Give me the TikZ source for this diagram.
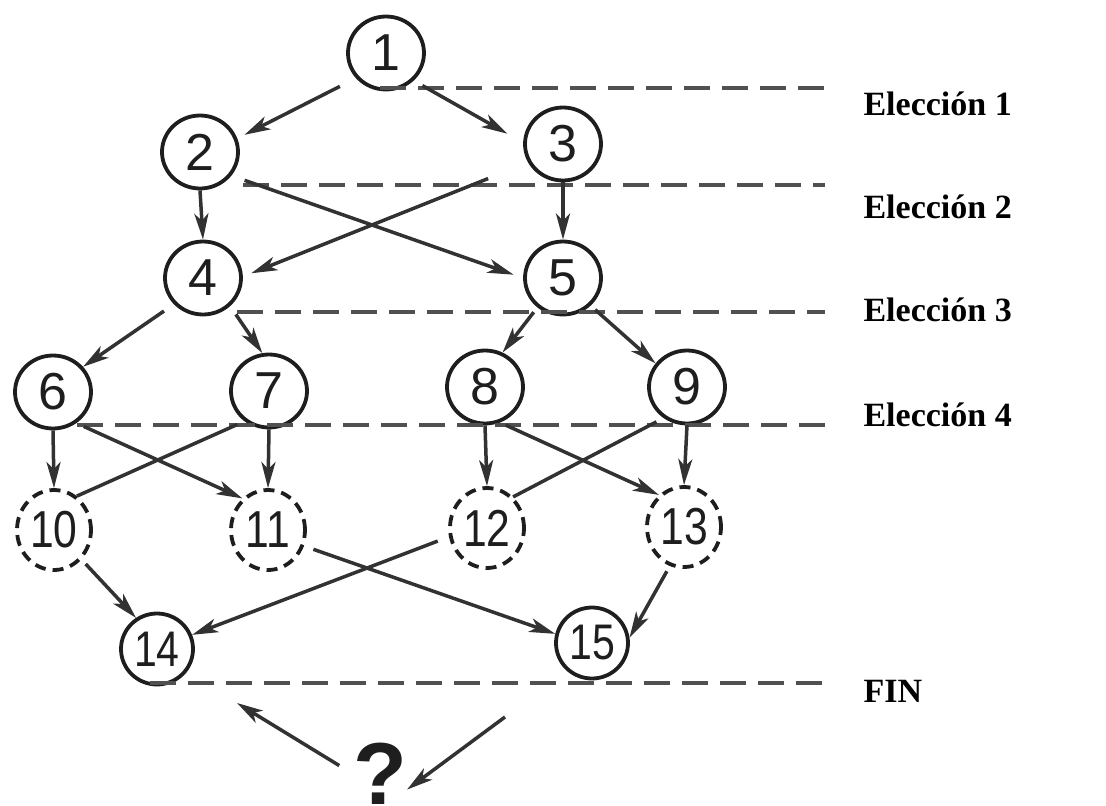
\documentclass[tikz,border=0pt]{standalone}
\usepackage{fontspec}
\setmainfont{Liberation Serif}
\newfontfamily\digitfont{Liberation Sans}
\newfontfamily\narrowdigitfont[FakeStretch=0.82]{Liberation Sans}
\usetikzlibrary{arrows.meta, shapes.geometric}
\definecolor{chink}{RGB}{30,30,30}
\definecolor{chline}{RGB}{50,50,50}
\definecolor{chdash}{RGB}{80,80,80}

\begin{document}
\begin{tikzpicture}[x=1pt, y=-1pt,
  choice/.style={ellipse, draw=chink, line width=3.8pt, minimum width=76pt,
                 minimum height=73pt, inner sep=0pt, text=chink,
                 font=\digitfont\fontsize{52}{52}\selectfont},
  pending/.style={choice, dash pattern=on 11pt off 7pt, minimum width=74pt,
                  minimum height=80pt, font=\narrowdigitfont\fontsize{52}{52}\selectfont},
  goal/.style={choice, minimum width=72pt, minimum height=71pt,
               font=\narrowdigitfont\fontsize{50}{50}\selectfont},
  pick/.style={-{Stealth[length=26pt,width=14pt,inset=7pt]}, line width=3.5pt, chline},
  cutline/.style={line width=3.8pt, chdash, dash pattern=on 26pt off 12pt},
  stagelabel/.style={anchor=base west, font=\bfseries\fontsize{34}{34}\selectfont}]
  \useasboundingbox (0,0) rectangle (1106,806);

  % Choice nodes
  \node[choice] (n1) at (386,53) {1};
  \node[choice] (n2) at (200,152) {2};
  \node[choice] (n3) at (563,144) {3};
  \node[choice] (n4) at (203,278) {4};
  \node[choice] (n5) at (563,278) {5};
  \node[choice] (n6) at (53,392) {6};
  \node[choice] (n7) at (269,391) {7};
  \node[choice] (n8) at (485,387) {8};
  \node[choice] (n9) at (687,387) {9};
  % Open nodes (dashed)
  \node[pending] (n10) at (54,530) {10};
  \node[pending] (n11) at (268,530) {11};
  \node[pending] (n12) at (487,528) {12};
  \node[pending] (n13) at (684,527) {13};
  % End nodes
  \node[goal] (n14) at (157,649) {14};
  \node[goal] (n15) at (592,643) {15};
  \node[anchor=north, inner sep=0pt, text=chink,
        font=\fontspec{Liberation Sans}\bfseries\fontsize{88}{88}\selectfont] (q) at (380,743) {?};

  % Stage lines
  \coordinate (c1a) at (380,88);  \coordinate (c1b) at (825,88);
  \coordinate (c2a) at (243,185); \coordinate (c2b) at (825,185);
  \coordinate (c3a) at (237,312); \coordinate (c3b) at (825,312);
  \coordinate (c4a) at (77,425);  \coordinate (c4b) at (825,425);
  \coordinate (c5a) at (150,683); \coordinate (c5b) at (825,683);
  \draw[cutline] (c1a) -- (c1b);
  \draw[cutline] (c2a) -- (c2b);
  \draw[cutline] (c3a) -- (c3b);
  \draw[cutline] (c4a) -- (c4b);
  \draw[cutline] (c5a) -- (c5b);

  % Stage labels
  \node[stagelabel] (s1) at (860,115) {Elección 1};
  \node[stagelabel] (s2) at (860,218) {Elección 2};
  \node[stagelabel] (s3) at (860,321) {Elección 3};
  \node[stagelabel] (s4) at (860,426) {Elección 4};
  \node[stagelabel] (s5) at (860,702) {FIN};

  % Moves
  \draw[pick, shorten <=18pt, shorten >=8pt] (n1.220) -- (n2.20);
  \draw[pick, shorten <=10pt, shorten >=18pt] (n1.-45) -- (n3.178);
  \draw[pick] (n2.south) -- (n4.north);
  \draw[pick] (n3.south) -- (n5.north);
  \draw[pick, shorten <=14pt, shorten >=10pt] (n2.-37) -- (n5.180);
  \draw[pick, shorten <=43pt, shorten >=9pt] (n3.208) -- (n4.2);
  \draw[pick, shorten <=12pt] (n4.222) -- (n6.40);
  \draw[pick, shorten <=10pt] (n4.-46) -- (n7.100);
  \draw[pick, shorten <=6pt] (n5.229) -- (n8.63);
  \draw[pick, shorten <=6pt] (n5.-45) -- (n9.143);
  \draw[pick] (n6.south) -- (n10.north);
  \draw[pick, shorten <=8pt] (n6.-53) -- (n11.129);
  \draw[line width=3.5pt, chline, shorten <=8pt] (n7.231) -- (n10.56);
  \draw[pick] (n7.south) -- (n11.north);
  \draw[pick] (n8.south) -- (n12.north);
  \draw[pick, shorten <=6pt] (n8.-67) -- (n13.128);
  \draw[line width=3.5pt, chline, shorten <=8pt] (n9.233) -- (n12.50);
  \draw[pick] (n9.south) -- (n13.north);
  \draw[pick, shorten <=6pt] (n10.-47) -- (n14.124);
  \draw[pick, shorten <=10pt] (n11.-24) -- (n15.166);
  \draw[pick, shorten <=12pt] (n12.193) -- (n14.22);
  \draw[pick, shorten <=6pt] (n13.250) -- (n15.8);

  % Question arrows
  \coordinate (qa) at (237,703);
  \coordinate (qb) at (505,717);
  \draw[pick, shorten <=16pt] (q.west) -- (qa);
  \draw[pick] (qb) -- (q.-30);
\end{tikzpicture}
\end{document}
